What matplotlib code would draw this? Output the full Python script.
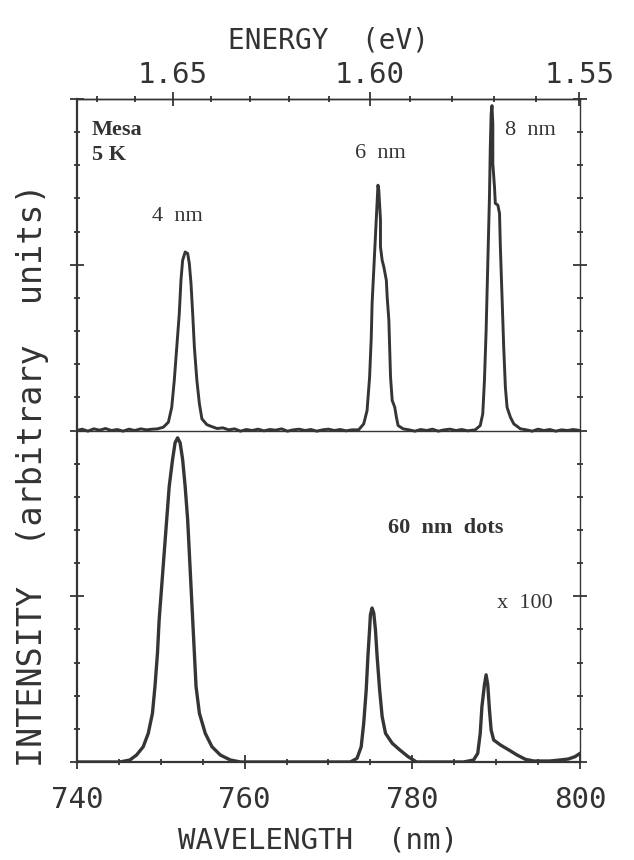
import matplotlib
matplotlib.use("Agg")
import matplotlib.pyplot as plt
from matplotlib.ticker import MultipleLocator, FixedLocator, NullFormatter
import numpy as np

# Mesa spectra (upper trace), intensity above its own baseline
wl_mesa = [740.0, 740.6, 741.3, 742.0, 742.7, 743.4, 744.1, 744.8, 745.5, 746.2,
           746.9, 747.6, 748.3, 749.0, 749.6, 750.3, 750.9, 751.3, 751.6, 751.9,
           752.2, 752.4, 752.6, 752.9, 753.2, 753.4, 753.6, 753.8, 754.0, 754.3,
           754.6, 754.9, 755.5, 756.0, 756.7, 757.4, 758.1, 758.8, 759.5, 760.2,
           760.9, 761.6, 762.3, 763.0, 763.7, 764.4, 765.1, 765.8, 766.5, 767.2,
           767.9, 768.6, 769.3, 770.0, 770.7, 771.4, 772.1, 772.8, 773.6, 774.2,
           774.6, 774.9, 775.1, 775.2, 775.4, 775.6, 775.8, 775.9, 776.0, 776.2,
           776.2, 776.4, 776.6, 776.9, 777.0, 777.2, 777.3, 777.4, 777.6, 777.9,
           778.1, 778.3, 778.9, 779.6, 780.3, 781.0, 781.7, 782.4, 783.1, 783.8,
           784.5, 785.2, 785.9, 786.6, 787.5, 788.1, 788.4, 788.6, 788.8, 789.0,
           789.2, 789.3, 789.4, 789.5, 789.6, 789.6, 789.8, 789.9, 790.2, 790.4,
           790.5, 790.7, 790.9, 791.1, 791.3, 791.7, 792.1, 792.9, 793.6, 794.3,
           795.0, 795.7, 796.4, 797.1, 797.8, 798.5, 799.2, 800.0]
int_mesa = [0.000, 0.008, -0.004, 0.010, 0.002, 0.012, 0.000, 0.006, -0.004, 0.008,
            0.000, 0.010, 0.004, 0.008, 0.010, 0.020, 0.050, 0.140, 0.300, 0.500,
            0.705, 0.906, 1.027, 1.077, 1.068, 1.007, 0.886, 0.705, 0.503, 0.302,
            0.161, 0.070, 0.035, 0.025, 0.012, 0.016, 0.004, 0.010, -0.004, 0.006,
            0.000, 0.008, -0.002, 0.006, 0.002, 0.010, -0.004, 0.004, 0.008, 0.000,
            0.006, -0.004, 0.004, 0.008, 0.000, 0.006, -0.002, 0.004, 0.004, 0.040,
            0.120, 0.320, 0.560, 0.765, 0.967, 1.168, 1.370, 1.480, 1.450, 1.270,
            1.108, 1.027, 0.987, 0.906, 0.805, 0.665, 0.503, 0.322, 0.181, 0.141,
            0.080, 0.030, 0.010, 0.004, -0.004, 0.006, 0.000, 0.008, -0.004, 0.004,
            0.008, 0.000, 0.006, -0.002, 0.004, 0.030, 0.100, 0.300, 0.600, 1.007,
            1.410, 1.710, 1.910, 1.960, 1.850, 1.610, 1.470, 1.370, 1.360, 1.310,
            1.108, 0.805, 0.503, 0.260, 0.140, 0.080, 0.040, 0.010, 0.004, -0.004,
            0.008, 0.000, 0.006, -0.004, 0.004, 0.000, 0.006, 0.000]

# 60 nm dots (lower trace, x 100)
wl_dots = [740.0, 745.1, 746.3, 747.1, 747.9, 748.5, 749.0, 749.3, 749.6, 749.8,
           750.1, 750.4, 750.7, 751.0, 751.4, 751.7, 752.0, 752.3, 752.6, 752.9,
           753.2, 753.4, 753.6, 753.8, 754.0, 754.2, 754.6, 755.3, 756.1, 757.1,
           758.3, 759.5, 766.0, 772.6, 773.4, 773.9, 774.2, 774.5, 774.7, 774.9,
           775.0, 775.2, 775.4, 775.6, 775.8, 776.1, 776.4, 776.8, 777.6, 778.5,
           779.5, 780.5, 783.5, 786.1, 787.3, 787.8, 788.1, 788.3, 788.6, 788.8,
           789.0, 789.2, 789.4, 789.7, 790.5, 791.5, 792.5, 793.5, 794.5, 796.4,
           797.6, 798.6, 799.4, 800.0]
int_dots = [0.000, 0.000, 0.012, 0.042, 0.092, 0.173, 0.294, 0.455, 0.657, 0.858,
            1.059, 1.261, 1.462, 1.663, 1.825, 1.926, 1.956, 1.926, 1.825, 1.663,
            1.462, 1.261, 1.059, 0.858, 0.657, 0.455, 0.294, 0.173, 0.092, 0.042,
            0.012, 0.000, 0.000, 0.000, 0.022, 0.092, 0.234, 0.435, 0.636, 0.798,
            0.888, 0.929, 0.898, 0.798, 0.636, 0.435, 0.274, 0.173, 0.113, 0.073,
            0.032, 0.000, 0.000, 0.000, 0.012, 0.052, 0.173, 0.334, 0.465, 0.526,
            0.465, 0.314, 0.193, 0.133, 0.103, 0.073, 0.042, 0.016, 0.006, 0.006,
            0.012, 0.018, 0.032, 0.052]

mesa_offset = 2.0
energy_major = [1.65, 1.60, 1.55]

line_col = "#353535"
text_col = "#333333"

def wl_to_ev(wl):
    wl = np.asarray(wl, dtype=float)
    return 1239.84 / np.where(wl == 0, 1e-9, wl)

def ev_to_wl(ev):
    ev = np.asarray(ev, dtype=float)
    return 1239.84 / np.where(ev == 0, 1e-9, ev)

fig = plt.figure(figsize=(6.34, 8.6), dpi=100)
ax = fig.add_axes([77 / 634, 1 - 762 / 860, 503 / 634, 663 / 860])

ax.plot(wl_mesa, np.array(int_mesa) + mesa_offset, color=line_col, lw=2.1)
ax.plot(wl_dots, int_dots, color=line_col, lw=2.4)
ax.axhline(mesa_offset, color=line_col, lw=1.0)

ax.set_xlim(740, 800)
ax.set_ylim(0, 4)

mono = "DejaVu Sans Mono"
ax.xaxis.set_major_locator(MultipleLocator(20))
ax.xaxis.set_minor_locator(MultipleLocator(5))
ax.yaxis.set_major_locator(MultipleLocator(1))
ax.yaxis.set_minor_locator(MultipleLocator(0.2))
ax.tick_params(which="both", direction="inout", top=False, right=True,
               labelleft=False, color=line_col)
ax.tick_params(which="major", length=10, width=1.3)
ax.tick_params(which="minor", length=5, width=1.3)
ax.tick_params(axis="x", which="major", pad=12, labelsize=21,
               labelcolor=text_col)
for lab in ax.get_xticklabels():
    lab.set_family(mono)

for side in ["left", "bottom"]:
    ax.spines[side].set_linewidth(1.6)
for side in ["top", "right"]:
    ax.spines[side].set_linewidth(1.0)
for sp in ax.spines.values():
    sp.set_color(line_col)

ax.set_xlabel("WAVELENGTH  (nm)", family=mono, fontsize=21, color=text_col)
ax.xaxis.set_label_coords(0.48, -0.097)
ax.set_ylabel("INTENSITY  (arbitrary  units)", family=mono, fontsize=24,
              color=text_col)
ax.yaxis.set_label_coords(-0.056, 0.433)

secax = ax.secondary_xaxis("top", functions=(wl_to_ev, ev_to_wl))
secax.xaxis.set_major_locator(FixedLocator(energy_major))
secax.xaxis.set_minor_locator(MultipleLocator(0.01))
secax.xaxis.set_minor_formatter(NullFormatter())
secax.set_xticklabels(["%.2f" % e for e in energy_major], family=mono,
                      fontsize=21, color=text_col)
secax.tick_params(which="both", direction="inout", color=line_col)
secax.tick_params(which="major", length=10, width=1.3, pad=2)
secax.tick_params(which="minor", length=5, width=1.3)
secax.spines["top"].set_linewidth(1.0)
secax.set_xlabel("ENERGY  (eV)", family=mono, fontsize=20, color=text_col,
                 labelpad=9)

serif = "Liberation Serif"
ax.text(741.8, 3.81, "Mesa", family=serif, fontsize=16, weight="bold",
        va="center", color=text_col)
ax.text(741.8, 3.66, "5 K", family=serif, fontsize=16, weight="bold",
        va="center", color=text_col)
ax.text(748.9, 3.29, "4  nm", family=serif, fontsize=16, va="center",
        color=text_col)
ax.text(773.2, 3.67, "6  nm", family=serif, fontsize=16, va="center",
        color=text_col)
ax.text(791.1, 3.81, "8  nm", family=serif, fontsize=16, va="center",
        color=text_col)
ax.text(777.1, 1.41, "60  nm  dots", family=serif, fontsize=16, weight="bold",
        va="center", color=text_col)
ax.text(790.1, 0.955, "x  100", family=serif, fontsize=16, va="center",
        color=text_col)

fig.savefig("out.png", dpi=100)
